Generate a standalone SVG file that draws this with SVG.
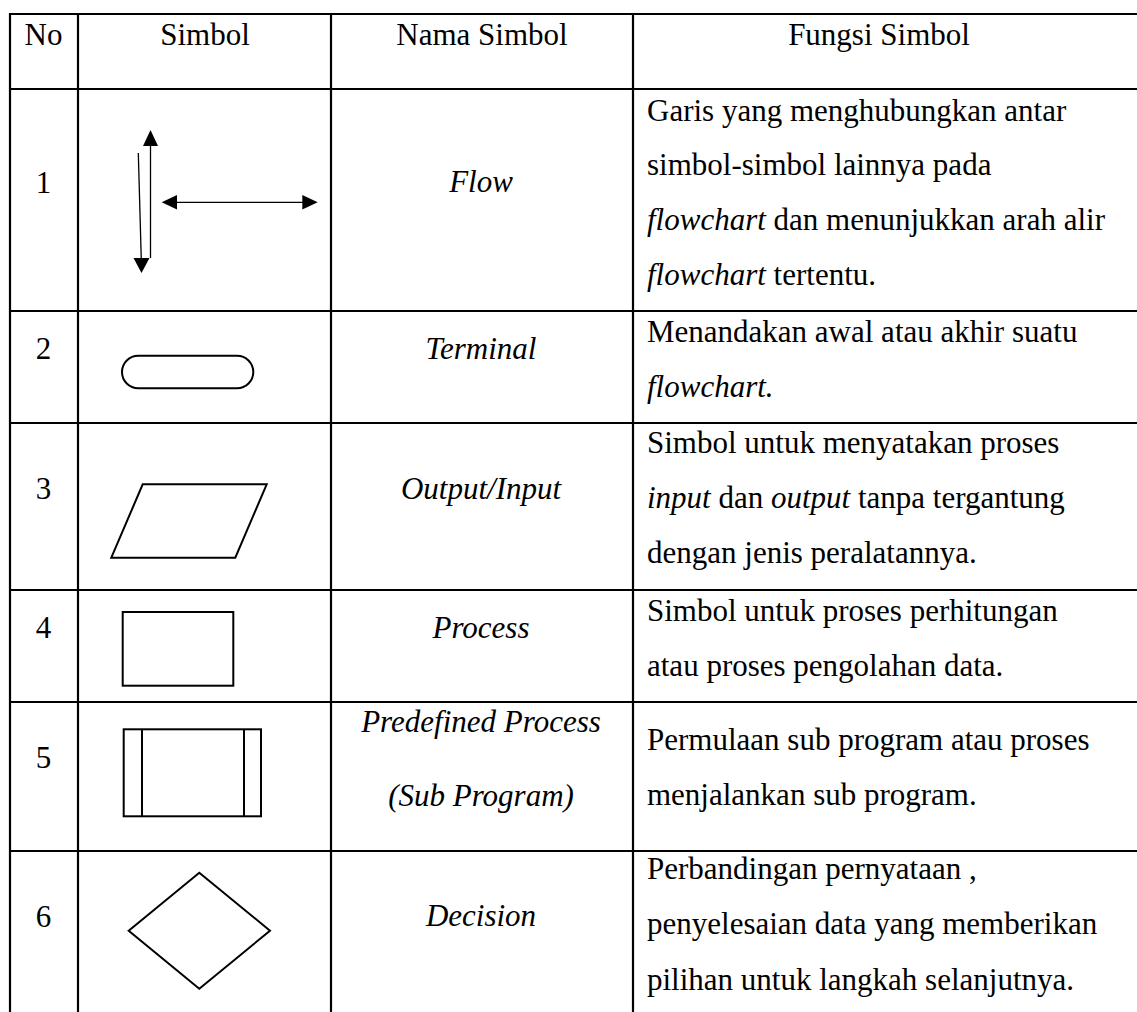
<svg xmlns="http://www.w3.org/2000/svg" width="1137" height="1012" viewBox="0 0 1137 1012">
<style>
text{font-family:"Liberation Serif","Times New Roman",serif;font-size:31px;fill:#000}
.c{text-anchor:middle}
.i{font-style:italic}
.grid{stroke:#000;stroke-width:2.2;fill:none}
.shape{stroke:#000;stroke-width:2;fill:none}
.thin{stroke:#000;stroke-width:1.3;fill:none}
.head{fill:#000;stroke:none}
</style>
<rect width="1137" height="1012" fill="#fff"/>
<g id="grid" class="grid">
<line x1="10" y1="14" x2="1137" y2="14"/>
<line x1="10" y1="89" x2="1137" y2="89"/>
<line x1="10" y1="311" x2="1137" y2="311"/>
<line x1="10" y1="423" x2="1137" y2="423"/>
<line x1="10" y1="590" x2="1137" y2="590"/>
<line x1="10" y1="702" x2="1137" y2="702"/>
<line x1="10" y1="851" x2="1137" y2="851"/>
<line x1="10" y1="13" x2="10" y2="1012"/>
<line x1="78" y1="13" x2="78" y2="1012"/>
<line x1="331" y1="13" x2="331" y2="1012"/>
<line x1="633" y1="13" x2="633" y2="1012"/>
</g>
<g id="header">
<text class="c" x="43.5" y="45">No</text>
<text class="c" x="205" y="45">Simbol</text>
<text class="c" x="482" y="45">Nama Simbol</text>
<text class="c" x="879" y="45">Fungsi Simbol</text>
</g>
<g id="row1">
<text class="c" x="43.5" y="192.5">1</text>
<g id="flow-symbol">
<line class="thin" x1="150.5" y1="258" x2="150.5" y2="144"/>
<polygon class="head" points="150.5,130 143,146 158,146"/>
<line class="thin" x1="138.3" y1="153" x2="141.3" y2="260"/>
<polygon class="head" points="141.5,273 133.5,258 149.5,258"/>
<line class="thin" x1="175" y1="202.3" x2="304" y2="202.3"/>
<polygon class="head" points="161.7,202.3 177,195 177,209.6"/>
<polygon class="head" points="317.7,202.3 302.3,195 302.3,209.6"/>
</g>
<text class="c i" x="481" y="192">Flow</text>
<text x="647" y="120.5">Garis yang menghubungkan antar</text>
<text x="647" y="175">simbol-simbol lainnya pada</text>
<text x="647" y="230"><tspan class="i">flowchart</tspan> dan menunjukkan arah alir</text>
<text x="647" y="285"><tspan class="i">flowchart</tspan> tertentu.</text>
</g>
<g id="row2">
<text class="c" x="43.5" y="359.3">2</text>
<rect id="terminal-symbol" class="shape" x="122" y="355.7" width="131.3" height="32.6" rx="16.3" ry="16.3"/>
<text class="c i" x="481" y="359.3">Terminal</text>
<text x="647" y="341.7">Menandakan awal atau akhir suatu</text>
<text x="647" y="396.7"><tspan class="i">flowchart.</tspan></text>
</g>
<g id="row3">
<text class="c" x="43.5" y="499.3">3</text>
<polygon id="io-symbol" class="shape" points="142.7,484.3 266.7,484.3 235.3,557.7 111.3,557.7"/>
<text class="c i" x="481" y="499.3">Output/Input</text>
<text x="647" y="453.3">Simbol untuk menyatakan proses</text>
<text x="647" y="508.3"><tspan class="i">input</tspan> dan <tspan class="i">output</tspan> tanpa tergantung</text>
<text x="647" y="563.3">dengan jenis peralatannya.</text>
</g>
<g id="row4">
<text class="c" x="43.5" y="638.3">4</text>
<rect id="process-symbol" class="shape" x="122.7" y="612" width="110.6" height="73.7"/>
<text class="c i" x="481" y="638.3">Process</text>
<text x="647" y="620.7">Simbol untuk proses perhitungan</text>
<text x="647" y="676">atau proses pengolahan data.</text>
</g>
<g id="row5">
<text class="c" x="43.5" y="768.3">5</text>
<g id="predefined-symbol" class="shape">
<rect x="123.7" y="729.3" width="137.3" height="87"/>
<line x1="142" y1="729.3" x2="142" y2="816.3"/>
<line x1="244" y1="729.3" x2="244" y2="816.3"/>
</g>
<text class="c i" x="481" y="731.7">Predefined Process</text>
<text class="c i" x="481" y="806">(Sub Program)</text>
<text x="647" y="750">Permulaan sub program atau proses</text>
<text x="647" y="805">menjalankan sub program.</text>
</g>
<g id="row6">
<text class="c" x="43.5" y="927.3">6</text>
<polygon id="decision-symbol" class="shape" points="199.3,872.7 270,930.7 199.3,988.7 128.7,930.7"/>
<text class="c i" x="481" y="926">Decision</text>
<text x="647" y="879.3">Perbandingan pernyataan ,</text>
<text x="647" y="934.3">penyelesaian data yang memberikan</text>
<text x="647" y="990">pilihan untuk langkah selanjutnya.</text>
</g>
</svg>
